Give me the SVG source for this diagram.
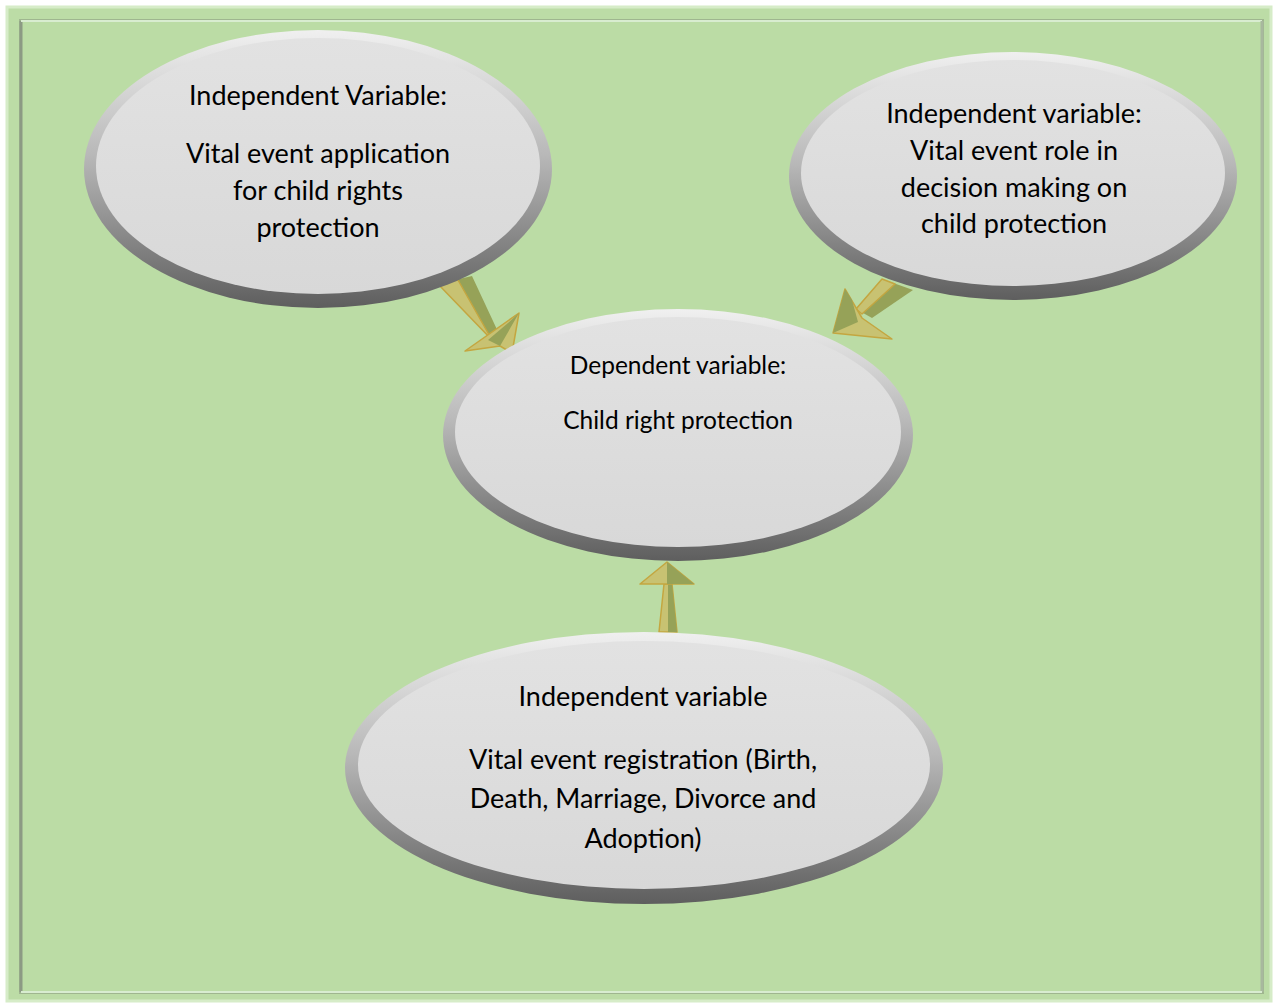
<svg xmlns="http://www.w3.org/2000/svg" width="1275" height="1004" viewBox="0 0 1275 1004">
<defs>
<linearGradient id="ring" x1="0" y1="0" x2="0" y2="1">
<stop offset="0" stop-color="#f0f0f0"/>
<stop offset="0.45" stop-color="#b8b8b8"/>
<stop offset="1" stop-color="#5e5e5e"/>
</linearGradient>
<linearGradient id="face" x1="0" y1="0" x2="0" y2="1">
<stop offset="0" stop-color="#e2e2e2"/>
<stop offset="1" stop-color="#d8d8d8"/>
</linearGradient>
<style>
.t{font-family:Lato,"Open Sans",sans-serif;font-size:27px;fill:#000;text-anchor:middle}
.s{font-size:24.5px}
.ah{fill:#c8c272;stroke:#c4a640;stroke-width:1.5;stroke-linejoin:round}
.sh{fill:#96a258}
</style>
</defs>
<rect x="0" y="0" width="1275" height="1004" fill="#ffffff"/>
<rect x="7" y="7" width="1264" height="994" fill="#bcdca6" stroke="#d6ecc8" stroke-width="3"/>
<rect x="20" y="20" width="1243" height="973" fill="#bbdca5" stroke="#9fb68f" stroke-width="2"/>
<line x1="21" y1="21" x2="21" y2="992" stroke="#8c9a84" stroke-width="3"/>
<line x1="21" y1="21" x2="1262" y2="21" stroke="#d8ecd0" stroke-width="2"/>
<line x1="1262" y1="21" x2="1262" y2="992" stroke="#a8b89e" stroke-width="3"/>
<line x1="21" y1="992" x2="1262" y2="992" stroke="#d8ecd0" stroke-width="2"/>

<g id="connectors">
<g id="arrow1">
<polygon class="sh" points="438,284 472,276 500,336 492,340"/>
<polygon class="ah" points="438,284 458,280 492,340"/>
<polygon class="ah" points="519,313 465,351 500,346 512,353"/>
<polygon class="sh" points="519,313 500,346 488,340 508,323"/>
</g>
<g id="arrow2">
<polygon class="sh" points="882,279 913,290 872,318 856,309"/>
<polygon class="ah" points="882,279 895,284 862,314 856,309"/>
<polygon class="ah" points="845,289 833,333 892,339 862,318"/>
<polygon class="sh" points="845,289 833,333 858,322 852,300"/>
</g>
<g id="arrow3">
<polygon class="ah" points="659,632 677,632 672,584 664,584"/>
<polygon class="sh" points="668,632 677,632 672,584 668,584"/>
<polygon class="ah" points="667,562 640,584 694,584"/>
<polygon class="sh" points="667,562 667,584 694,584"/>
</g>
</g>

<g id="node1">
<ellipse cx="318" cy="169" rx="234" ry="139" fill="url(#ring)"/>
<ellipse cx="318" cy="166" rx="222" ry="128" fill="url(#face)"/>
<text class="t" x="318" y="105">Independent Variable:</text>
<text class="t" x="318" y="163">Vital event application</text>
<text class="t" x="318" y="200">for child rights</text>
<text class="t" x="318" y="237">protection</text>
</g>
<g id="node2">
<ellipse cx="1013" cy="176" rx="224" ry="124" fill="url(#ring)"/>
<ellipse cx="1013" cy="173" rx="212" ry="113" fill="url(#face)"/>
<text class="t" x="1014" y="123">Independent variable:</text>
<text class="t" x="1014" y="160">Vital event role in</text>
<text class="t" x="1014" y="197">decision making on</text>
<text class="t" x="1014" y="233">child protection</text>
</g>
<g id="node3">
<ellipse cx="678" cy="435" rx="235" ry="126" fill="url(#ring)"/>
<ellipse cx="678" cy="432" rx="223" ry="115" fill="url(#face)"/>
<text class="t s" x="678" y="374">Dependent variable:</text>
<text class="t s" x="678" y="429">Child right protection</text>
</g>
<g id="node4">
<ellipse cx="644" cy="768" rx="299" ry="136" fill="url(#ring)"/>
<ellipse cx="644" cy="765" rx="286" ry="124" fill="url(#face)"/>
<text class="t" x="643" y="706">Independent variable</text>
<text class="t" x="643" y="769">Vital event registration (Birth,</text>
<text class="t" x="643" y="808">Death, Marriage, Divorce and</text>
<text class="t" x="643" y="848">Adoption)</text>
</g>
</svg>
